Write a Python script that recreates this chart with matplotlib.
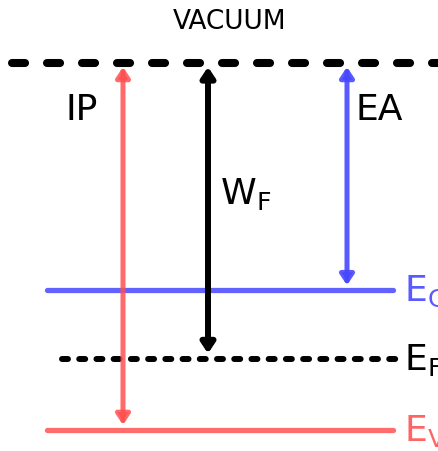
import matplotlib
matplotlib.use("Agg")
import matplotlib.pyplot as plt

plt.rcParams['font.family'] = ['DejaVu Sans']
plt.rcParams['mathtext.default'] = 'regular'
plt.rcParams['lines.scale_dashes'] = False

# energy levels (eV, vacuum = 0)
level_names = ['VACUUM', 'E$_C$', 'E$_F$', 'E$_V$']
level_values = [0.0, -3.5, -4.55, -5.65]
level_colors = ['black', '#5a5aff', 'black', '#ff6464']

# energy differences drawn as arrows
gap_names = ['IP', 'W$_F$', 'EA']
gap_from = [0.0, 0.0, 0.0]
gap_to = [-5.65, -4.55, -3.5]

fig = plt.figure(figsize=(4.39, 4.52), dpi=100)
ax = fig.add_axes([0, 0, 1, 1])
ax.set_xlim(0, 439)
ax.set_ylim(-5.97, 0.985)
ax.axis('off')

vac, ec, ef, ev = level_values

# vacuum level
ax.plot([12, 460], [vac, vac], color='black', lw=5.8, dash_capstyle='round',
        dashes=(9.4, 15.8), clip_on=False)
ax.text(230, 0.64, level_names[0], ha='center', va='center', fontsize=19)

# conduction, fermi, valence
ax.plot([47, 393], [ec, ec], color=level_colors[1], lw=3.8, solid_capstyle='round', alpha=0.95)
ax.plot([62, 397], [ef, ef], color=level_colors[2], lw=4.3, dash_capstyle='round',
        dashes=(4.3, 8.1))
ax.plot([47, 393], [ev, ev], color=level_colors[3], lw=3.8, solid_capstyle='round', alpha=0.95)

for name, y, c in zip(level_names[1:], level_values[1:], level_colors[1:]):
    ax.text(404, y, name, ha='left', va='center', fontsize=26, color=c)

# arrows
arrow_x = [123, 208, 347]
arrow_c = ['#ff5050', 'black', '#4848ff']
arrow_lw = [3.6, 4.3, 3.6]
arrow_alpha = [0.85, 1.0, 0.9]
for x, y0, y1, c, lw, a in zip(arrow_x, gap_from, gap_to, arrow_c, arrow_lw, arrow_alpha):
    ax.annotate('', xy=(x, y1 + 0.08), xytext=(x, y0 - 0.06),
                arrowprops=dict(arrowstyle='<|-|>,head_length=0.3,head_width=0.2',
                                mutation_scale=20, lw=lw, color=c, alpha=a,
                                shrinkA=0, shrinkB=0))

ax.text(82, -0.71, gap_names[0], ha='center', va='center', fontsize=26)
ax.text(220, -2.0, gap_names[1], ha='left', va='center', fontsize=26)
ax.text(356, -0.71, gap_names[2], ha='left', va='center', fontsize=26)

fig.savefig('out.png', dpi=100)
